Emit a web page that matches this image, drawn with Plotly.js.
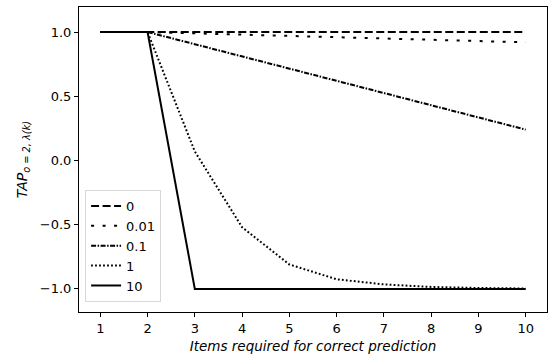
<!DOCTYPE html>
<html>
<head>
<meta charset="utf-8">
<script src="https://cdn.plot.ly/plotly-3.0.1.min.js"></script>
<style>
  html, body { margin: 0; padding: 0; background: #fff; }
  #chart { width: 552px; height: 358px; }
</style>
</head>
<body>
<div id="chart"></div>
<script>
const items = [1, 2, 3, 4, 5, 6, 7, 8, 9, 10];
const seriesNames = ["0", "0.01", "0.1", "1", "10"];
const tap0 = [1, 1, 1, 1, 1, 1, 1, 1, 1, 1];
const tap001 = [1, 1, 0.99, 0.98, 0.97, 0.96, 0.95, 0.94, 0.93, 0.92];
const tap01 = [1, 1, 0.905, 0.81, 0.715, 0.62, 0.525, 0.43, 0.335, 0.24];
const tap1 = [1, 1, 0.07, -0.52, -0.81, -0.925, -0.965, -0.985, -0.993, -0.997];
const tap10 = [1, 1, -1, -1, -1, -1, -1, -1, -1, -1];
const yTickVals = [-1.0, -0.5, 0.0, 0.5, 1.0];
const xTickVals = [1, 2, 3, 4, 5, 6, 7, 8, 9, 10];

const seriesData = [tap0, tap001, tap01, tap1, tap10];
const dashes = ["8px,3.5px", "3px,8.5px", "5px,1.5px,1.5px,1.5px", "1.8px,2.2px", "solid"];

const traces = seriesData.map((ys, i) => ({
  x: items,
  y: ys,
  type: "scatter",
  mode: "lines",
  name: seriesNames[i],
  line: { color: "#000", width: 2, dash: dashes[i] }
}));

const font = { family: "DejaVu Sans, sans-serif", size: 12, color: "#000" };

const layout = {
  width: 552,
  height: 358,
  margin: { l: 79, r: 5, t: 7, b: 46 },
  paper_bgcolor: "#fff",
  plot_bgcolor: "#fff",
  font: font,
  showlegend: true,
  legend: {
    x: 0.013, y: 0.033, xanchor: "left", yanchor: "bottom",
    bgcolor: "rgba(255,255,255,0.85)",
    bordercolor: "#d8d8d8", borderwidth: 1,
    font: { family: "DejaVu Sans, sans-serif", size: 13, color: "#000" },
    tracegroupgap: 0,
    itemwidth: 30
  },
  xaxis: {
    range: [0.55, 10.45],
    tickvals: xTickVals,
    ticks: "outside", ticklen: 4, tickwidth: 1, tickcolor: "#000",
    showline: true, linecolor: "#000", linewidth: 1, mirror: true,
    showgrid: false, zeroline: false,
    tickfont: { family: "DejaVu Sans, sans-serif", size: 13, color: "#000" },
    title: {
      text: "<i>Items required for correct prediction</i>",
      font: { family: "DejaVu Sans, sans-serif", size: 13.5, color: "#000" },
      standoff: 6
    }
  },
  yaxis: {
    range: [-1.18, 1.195],
    tickvals: yTickVals,
    tickformat: ".1f",
    ticks: "outside", ticklen: 4, tickwidth: 1, tickcolor: "#000",
    showline: true, linecolor: "#000", linewidth: 1, mirror: true,
    showgrid: false, zeroline: false,
    tickfont: { family: "DejaVu Sans, sans-serif", size: 13, color: "#000" },
    title: {
      text: "<i>TAP</i><sub><i>o = 2, λ(k)</i></sub>",
      font: { family: "DejaVu Sans, sans-serif", size: 14, color: "#000" },
      standoff: 8
    }
  }
};

Plotly.newPlot("chart", traces, layout, { displayModeBar: false, staticPlot: true });
</script>
</body>
</html>
